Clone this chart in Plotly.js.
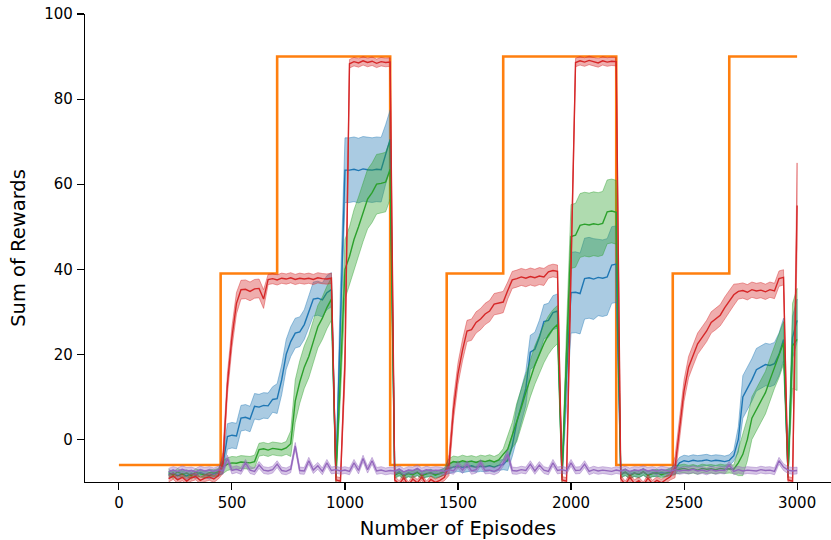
<!DOCTYPE html>
<html><head><meta charset="utf-8">
<script src="https://cdn.plot.ly/plotly-3.0.1.min.js"></script>
<style>html,body{margin:0;padding:0;background:#fff}#chart{width:831px;height:540px}</style>
</head><body><div id="chart"></div>
<script>
// Episode grid of the learning curves (start, step, end)
const episodeStart = 220, episodeStep = 20, episodeEnd = 3000;
const episodes = [];
for (let e = episodeStart; e <= episodeEnd; e += episodeStep) episodes.push(e);

// Reference (orange) step curve
const targetEpisodes = [0, 450, 700, 1200, 1450, 1700, 2200, 2450, 2700, 3000];
const targetRewards  = [-6, 39, 90, -6, 39, 90, -6, 39, 90, 90];

const redMean = [
  -9.2,-8.6,-9.5,-8.9,-9.8,-9.0,-8.7,-9.6,-9.1,-8.8,
  -9.3,-8.5,-5.5,13,24,32,35.2,35.3,34.8,35.4,
  35.5,33,37.6,37.8,37.5,37.9,37.7,38,37.6,37.9,
  37.7,37.9,37.6,38,37.8,37.7,37.9,-9.5,-9.8,18,
  88.3,88.8,88.5,89,88.6,88.9,88.4,88.8,88.6,88.7,
  -9.5,-10.5,-9,-10.8,-9.3,-10.2,-8.8,-10.6,-9.4,-10.1,
  -9.6,-8.9,-6,7,15.5,21,25.5,25.8,27.5,28.3,
  29.5,30.2,31.8,32,32.3,35,37.5,37.8,38.2,37.9,
  38.3,38,38.4,38.2,39.4,39.7,39.5,-9.5,-9.8,40,
  88.6,89,88.7,89.1,88.8,88.5,89,88.7,88.9,88.8,
  -9.2,-10.6,-8.9,-10.3,-9.7,-10.8,-9.1,-10.4,-9.6,-10.2,
  -9.4,-8.7,-6.5,2,11.5,17,19.8,22.5,24,25.5,
  27.5,28.3,29.2,31,32.5,34,34.8,35,34.6,35.2,
  34.9,35.1,34.7,35.2,34.9,37.8,38.1,-9.5,-9.8,55
];
const blueMean = [
  -8.3,-7.9,-8.5,-8.1,-8.6,-8.0,-8.4,-7.8,-8.2,-8.5,
  -8.1,-7.9,-6,0.7,1,0.8,5,5.2,4.8,7.8,
  7.6,8,7.9,9.4,9.6,14,20,23,25,25.3,
  27,30,33,33.2,32.8,34.5,35.2,-8.5,30,63.3,
  63.3,63.5,63.2,63.6,63.4,63.3,63.5,63.4,67,70.5,
  -8.2,-7.6,-8.4,-7.9,-8.1,-7.7,-8.3,-8.0,-7.8,-8.2,
  -8,-7.6,-6.8,-6.5,-6.3,-6.6,-6.4,-6.2,-6.5,-6.3,
  -6.4,-6.2,-6.5,-6.1,-5.9,-4.8,-1.5,4,8,12,
  20.5,21.2,24,27.7,28,29.8,30.2,-8.5,15,34.5,
  34.6,34.3,37.8,38,37.7,38.1,37.9,38.2,41,41.2,
  -8.1,-7.7,-8.3,-7.9,-8.2,-7.6,-8.4,-7.9,-8.0,-7.8,
  -8,-7.7,-7,-5.5,-5,-5.2,-4.9,-5.1,-5,-4.8,
  -5.1,-4.9,-5,-5.2,-4.9,-3.8,0,10,12,14,
  16.4,17,17.6,17.4,17.8,20,23.5,-8,24,28
];
const greenMean = [
  -7.8,-8.4,-7.6,-8.2,-7.9,-8.5,-7.7,-8.1,-8.3,-7.8,
  -7.9,-7.6,-6.5,-5.8,-5.5,-5.6,-5.3,-5.4,-5.5,-5.2,
  -2.4,-2.2,-2.5,-2.1,-2.3,-2.4,-2.0,-1,9,13.5,
  17,19.5,23,26.5,28.5,31,33,-9,15,40,
  43,47,50,53.5,56.5,58,60,60.2,60.5,63.5,
  -8.4,-7.8,-8.6,-8.0,-8.3,-7.7,-8.5,-8.1,-7.9,-8.4,
  -8,-7.5,-5.8,-5.2,-5.4,-5,-5.3,-5.1,-5.4,-5.0,
  -5.2,-4.9,-5.3,-4.8,-3.5,-2.3,1,4,7.5,11,
  14.5,17.5,20,22.5,24.5,26,27,-9,20,47.7,
  48,50.3,50.6,50.4,50.7,50.5,50.8,53.5,53.7,53.4,
  -8.3,-7.7,-8.5,-7.9,-8.2,-7.6,-8.4,-8.0,-7.8,-8.3,
  -7.9,-7.5,-7.2,-7.0,-6.8,-7.1,-6.9,-7.2,-6.8,-7.0,
  -6.9,-7.1,-6.8,-7.0,-6.9,-7.0,-5.5,-3.5,0,5,
  7,9,11,14,17,19.5,22.7,-8,22,23.5
];
const purpleMean = [
  -7.6,-7.2,-7.5,-7.0,-7.4,-7.3,-7.6,-7.1,-7.4,-7.2,
  -7.5,-7.1,-7.4,-4.5,-7.3,-7.0,-7.4,-5.5,-7.2,-7.5,
  -6.0,-7.2,-7.4,-7.1,-5.8,-7.3,-7.5,-7.0,-1.5,-7.3,
  -7.4,-5.0,-7.2,-6.2,-7.5,-5.5,-7.3,-7.1,-7.4,-7.2,
  -7.5,-5.5,-7.3,-4.5,-7.1,-5.0,-7.4,-7.2,-7.5,-7.3,
  -7.4,-7.0,-7.6,-7.2,-7.3,-6.8,-7.5,-7.1,-7.4,-7.2,
  -7.3,-7.5,-7.1,-7.4,-6.0,-7.2,-5.8,-7.4,-7.1,-5.5,
  -7.3,-7.2,-7.5,-7.0,-5.5,-3.5,-7.3,-7.4,-7.1,-7.3,
  -5.8,-7.4,-6.0,-7.2,-7.5,-5.5,-7.3,-7.1,-7.4,-5.5,
  -7.3,-7.2,-5.8,-7.5,-7.1,-7.4,-7.2,-7.3,-7.5,-7.2,
  -7.4,-7.1,-7.5,-7.2,-7.3,-7.0,-7.4,-7.2,-7.5,-7.1,
  -7.3,-7.5,-7.1,-7.4,-7.2,-7.3,-7.0,-7.4,-7.2,-7.5,
  -7.1,-7.4,-7.2,-7.3,-6.0,-7.5,-7.1,-7.4,-7.2,-7.3,
  -7.4,-7.1,-7.3,-7.2,-7.5,-5.0,-6.5,-7.2,-7.4,-7.3
];

// Spread (half-width of the shaded band), piecewise: from episode -> width
const redSpreadFrom  = [220,460,540,650,960,1000,1020,1220,1460,1720,1900,1960,2000,2020,2220,2460,2740,2960,3000];
const redSpread      = [0.8,2.5,2.2,1.2,0.8,4,1.0,0.8,2.5,2,1.5,0.8,4,1.0,0.8,2.5,1.8,0.8,10];
const blueSpreadFrom = [220,460,480,700,840,960,980,1000,1180,1220,1460,1720,1760,1960,1980,2000,2120,2220,2460,2740,2760,2960,2980];
const blueSpread     = [0.8,2,3,3.5,4,1,6,7.6,7,0.8,1.2,2.5,4,1,6,9.5,9,0.8,1.3,3,5,1,5];
const greenSpreadFrom= [220,460,760,780,960,980,1000,1220,1460,1720,1760,1960,1980,2000,2220,2460,2740,2760,2960,2980,3000];
const greenSpread    = [0.8,1.5,3,5,1,5,7,0.8,1.3,3,4.5,1,6,7.5,0.8,1,3,5,1,10,12];
const purpleSpreadFrom = [220];
const purpleSpread     = [0.8];

function spreadAt(e, from, w) {
  let v = w[0];
  for (let i = 0; i < from.length; i++) if (e >= from[i]) v = w[i];
  return v;
}

function series(mean, from, w, rgb) {
  const up = [], lo = [];
  episodes.forEach((e, i) => { const s = spreadAt(e, from, w); up.push(mean[i] + s); lo.push(mean[i] - s); });
  const band = {
    x: episodes.concat(episodes.slice().reverse()),
    y: up.concat(lo.reverse()),
    type: 'scatter', mode: 'lines', fill: 'toself',
    fillcolor: `rgba(${rgb},0.38)`, line: {color: `rgba(${rgb},0.42)`, width: 1},
    hoverinfo: 'skip', showlegend: false
  };
  const line = {
    x: episodes, y: mean, type: 'scatter', mode: 'lines',
    line: {color: `rgb(${rgb})`, width: 1.4}, showlegend: false
  };
  return [band, line];
}

const traces = [
  {x: targetEpisodes, y: targetRewards, type: 'scatter', mode: 'lines',
   line: {color: '#ff7f0e', width: 2.6, shape: 'hv'}, showlegend: false},
  ...series(blueMean, blueSpreadFrom, blueSpread, '31,119,180'),
  ...series(greenMean, greenSpreadFrom, greenSpread, '44,160,44'),
  ...series(redMean, redSpreadFrom, redSpread, '214,39,40'),
  ...series(purpleMean, purpleSpreadFrom, purpleSpread, '148,103,189')
];

const font = 'DejaVu Sans, sans-serif';
const axisBase = {
  showgrid: false, zeroline: false, showline: true, linecolor: '#000', linewidth: 1.2,
  ticks: 'outside', ticklen: 7, tickwidth: 1.1, tickcolor: '#000',
  tickfont: {family: font, size: 15, color: '#000'}, automargin: false
};
const layout = {
  width: 831, height: 540,
  margin: {l: 85, r: 0, t: 14, b: 58},
  paper_bgcolor: '#fff', plot_bgcolor: '#fff', showlegend: false,
  xaxis: Object.assign({}, axisBase, {
    range: [-150, 3150], tickvals: [0, 500, 1000, 1500, 2000, 2500, 3000],
    title: {text: 'Number of Episodes', font: {family: font, size: 19.5, color: '#000'}, standoff: 11}
  }),
  yaxis: Object.assign({}, axisBase, {
    range: [-10, 100], tickvals: [0, 20, 40, 60, 80, 100], ticklabelstandoff: 1,
    title: {text: 'Sum of Rewards', font: {family: font, size: 19.5, color: '#000'}, standoff: 13}
  })
};
Plotly.newPlot('chart', traces, layout, {displayModeBar: false, staticPlot: true});
</script></body></html>
